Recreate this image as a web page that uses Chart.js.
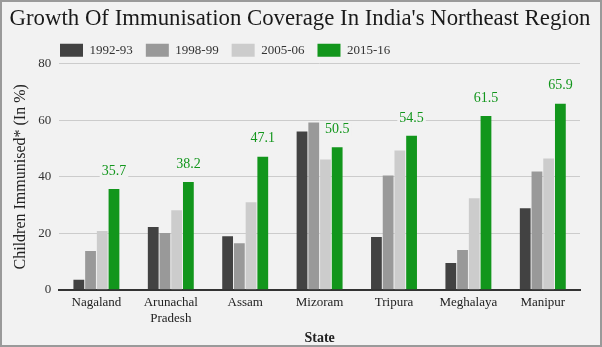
<!DOCTYPE html>
<html>
<head>
<meta charset="utf-8">
<script src="https://cdn.jsdelivr.net/npm/chart.js@4"></script>
<style>
  html, body { margin: 0; padding: 0; background: #fff; }
  #wrap { width: 598px; height: 343px; border: 2px solid #9a9a9a; background: #f2f2f2; }
</style>
</head>
<body>
<div id="wrap"><canvas id="chart" width="598" height="343"></canvas></div>
<script>
// Chart data
const states = ['Nagaland', ['Arunachal', 'Pradesh'], 'Assam', 'Mizoram', 'Tripura', 'Meghalaya', 'Manipur'];
const seriesNames = ['1992-93', '1998-99', '2005-06', '2015-16'];
const values1992 = [3.6, 22.2, 19.0, 56.0, 18.7, 9.5, 28.9];
const values1998 = [13.7, 20.1, 16.5, 59.2, 40.5, 14.1, 41.9];
const values2005 = [20.8, 28.2, 31.0, 46.1, 49.3, 32.4, 46.5];
const values2015 = [35.7, 38.2, 47.1, 50.5, 54.5, 61.5, 65.9];
const yTicks = [0, 20, 40, 60, 80];

const colors = ['#424242', '#999999', '#cccccc', '#12961c'];
const font = 'Liberation Serif';

// Draw value labels above the 2015-16 bars
const valueLabels = {
    id: 'valueLabels',
    afterDatasetsDraw(chart) {
        const ctx = chart.ctx;
        const meta = chart.getDatasetMeta(3);
        ctx.save();
        ctx.font = '14px "' + font + '"';
        ctx.textAlign = 'center';
        ctx.textBaseline = 'middle';
        meta.data.forEach(function(bar, i) {
            const txt = values2015[i].toFixed(1);
            const w = ctx.measureText(txt).width;
            const y = bar.y - 18;
            ctx.fillStyle = '#f2f2f2';
            ctx.fillRect(bar.x - w / 2 - 2, y - 7, w + 4, 14);
            ctx.fillStyle = '#12961c';
            ctx.fillText(txt, bar.x, y);
        });
        ctx.restore();
    }
};

// Move the legend to the left and centre the title on the whole canvas
const blockShift = {
    id: 'blockShift',
    afterLayout(chart) {
        chart.legend.left = 45;
        chart.titleBlock.left = 0;
        chart.titleBlock.right = chart.width - 2;
        chart.titleBlock.width = chart.width - 2;
    }
};

new Chart(document.getElementById('chart'), {
    type: 'bar',
    data: {
        labels: states,
        datasets: [
            { label: seriesNames[0], data: values1992, backgroundColor: colors[0] },
            { label: seriesNames[1], data: values1998, backgroundColor: colors[1] },
            { label: seriesNames[2], data: values2005, backgroundColor: colors[2] },
            { label: seriesNames[3], data: values2015, backgroundColor: colors[3] }
        ]
    },
    options: {
        responsive: false,
        animation: false,
        datasets: { bar: { categoryPercentage: 0.63, barPercentage: 0.92 } },
        layout: { padding: { left: 9, right: 20, top: 2, bottom: 0 } },
        plugins: {
            title: {
                display: true,
                text: "Growth Of Immunisation Coverage In India's Northeast Region",
                color: '#1a1a1a',
                font: { family: font, size: 22.8, weight: 'normal', lineHeight: 1 },
                padding: { top: 4, bottom: 0 }
            },
            legend: {
                position: 'top',
                align: 'start',
                maxHeight: 33,
                labels: {
                    boxWidth: 23,
                    boxHeight: 13,
                    padding: 13,
                    color: '#333',
                    font: { family: font, size: 13 }
                }
            },
            tooltip: { enabled: false }
        },
        scales: {
            x: {
                grid: { display: false, drawTicks: false },
                border: { display: true, color: '#333', width: 2 },
                ticks: { color: '#222', padding: 5, font: { family: font, size: 13 }, maxRotation: 0 },
                title: {
                    display: true,
                    text: 'State',
                    color: '#222',
                    font: { family: font, size: 14, weight: 'bold', lineHeight: 1 },
                    padding: { top: 0, bottom: 0 }
                }
            },
            y: {
                min: 0,
                max: 80,
                afterBuildTicks(axis) {
                    axis.ticks = yTicks.map(function(v) { return { value: v }; });
                },
                grid: { color: '#cccccc', drawTicks: false },
                border: { display: false },
                ticks: { color: '#333', padding: 8, font: { family: font, size: 13 } },
                title: {
                    display: true,
                    text: 'Children Immunised* (In %)',
                    color: '#222',
                    font: { family: font, size: 16 },
                    padding: { top: 0, bottom: 0 }
                }
            }
        }
    },
    plugins: [valueLabels, blockShift]
});
</script>
</body>
</html>
